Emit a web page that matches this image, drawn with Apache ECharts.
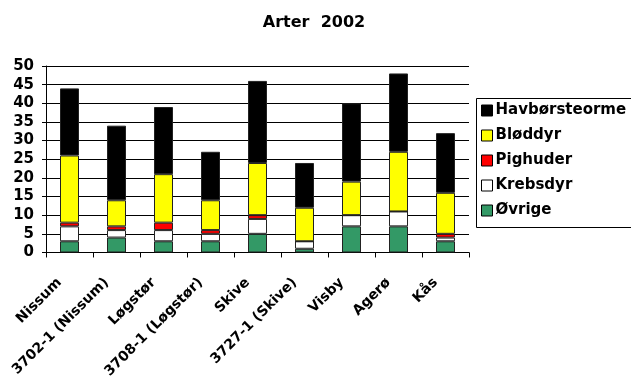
<!DOCTYPE html>
<html>
<head>
<meta charset="utf-8">
<script src="https://cdn.jsdelivr.net/npm/echarts@6/dist/echarts.min.js"></script>
<style>
  html, body { margin: 0; padding: 0; background: #fff; }
  #chart { width: 631px; height: 381px; }
</style>
</head>
<body>
<div id="chart"></div>
<script>
// Stations along the x axis
const categories = ['Nissum', '3702-1 (Nissum)', 'Løgstør', '3708-1 (Løgstør)', 'Skive', '3727-1 (Skive)', 'Visby', 'Agerø', 'Kås'];

// Number of species per group at each station (stacked bottom to top)
const oevrige        = [3, 4, 3, 3, 5, 1, 7, 7, 3];
const krebsdyr       = [4, 2, 3, 2, 4, 2, 3, 4, 1];
const pighuder       = [1, 1, 2, 1, 1, 0, 0, 0, 1];
const bloeddyr       = [18, 7, 13, 8, 14, 9, 9, 16, 11];
const havboersteorme = [18, 20, 18, 13, 22, 12, 21, 21, 16];

const yTicks = [0, 5, 10, 15, 20, 25, 30, 35, 40, 45, 50];

const font = '"DejaVu Sans", Arial, sans-serif';

function bar(name, data, color) {
  return {
    name: name,
    type: 'bar',
    stack: 'arter',
    data: data,
    barWidth: 19,
    itemStyle: { color: color, borderColor: '#222', borderWidth: 1 }
  };
}

const chart = echarts.init(document.getElementById('chart'), null, { renderer: 'canvas' });
chart.setOption({
  animation: false,
  backgroundColor: '#fff',
  title: {
    text: 'Arter  2002',
    left: 309,
    top: 10,
    textAlign: 'center',
    textStyle: { fontFamily: font, fontSize: 16, fontWeight: 'bold', color: '#000' }
  },
  // legend frame: open on the right, it runs past the canvas edge
  graphic: [{
    type: 'polyline',
    shape: { points: [[700, 98.5], [476.5, 98.5], [476.5, 227.5], [700, 227.5]] },
    style: { fill: 'none', stroke: '#000', lineWidth: 1 },
    silent: true
  }],
  grid: { left: 46, right: 162, top: 66, bottom: 128, containLabel: false },
  legend: {
    orient: 'vertical',
    left: 476,
    top: 98,
    data: ['Havbørsteorme', 'Bløddyr', 'Pighuder', 'Krebsdyr', 'Øvrige'],
    icon: 'rect',
    itemWidth: 11,
    itemHeight: 11,
    itemGap: 10,
    borderWidth: 0,
    padding: [5, 5, 5, 5],
    textStyle: { fontFamily: font, fontSize: 15, fontWeight: 'bold', color: '#000', padding: [0, 0, 0, -2] },
    itemStyle: { borderColor: '#000', borderWidth: 1 }
  },
  xAxis: {
    type: 'category',
    data: categories,
    boundaryGap: true,
    axisLine: { lineStyle: { color: '#000', width: 1 } },
    axisTick: { show: true, inside: false, length: 5, lineStyle: { color: '#000' } },
    axisLabel: {
      rotate: 45,
      interval: 0,
      margin: 18,
      padding: [0, 14, 0, 0],
      fontFamily: font,
      fontSize: 14,
      fontWeight: 'bold',
      color: '#000'
    }
  },
  yAxis: {
    type: 'value',
    min: yTicks[0],
    max: yTicks[yTicks.length - 1],
    interval: 5,
    axisLine: { show: true, lineStyle: { color: '#000', width: 1 } },
    axisTick: { show: true, inside: false, length: 4, lineStyle: { color: '#000' } },
    axisLabel: { fontFamily: font, fontSize: 15, fontWeight: 'bold', color: '#000', margin: 12 },
    splitLine: { show: true, lineStyle: { color: '#000', width: 1 } }
  },
  series: [
    bar('Øvrige', oevrige, '#339966'),
    bar('Krebsdyr', krebsdyr, '#ffffff'),
    bar('Pighuder', pighuder, '#ff0000'),
    bar('Bløddyr', bloeddyr, '#ffff00'),
    bar('Havbørsteorme', havboersteorme, '#000000')
  ]
});
</script>
</body>
</html>
